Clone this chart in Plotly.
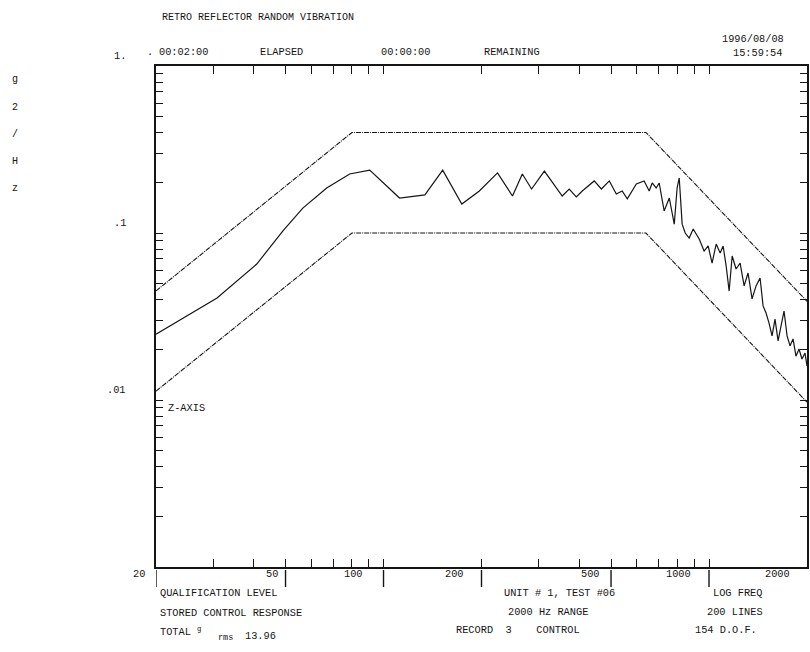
import numpy as np
import plotly.graph_objects as go

# ---------------- data ----------------
limit_freq = [20, 80, 640, 2000]
upper_abort = [0.045, 0.40, 0.40, 0.039]
lower_abort = [0.0113, 0.10, 0.10, 0.0097]

resp_freq = [20, 24.2, 30.8, 40.8, 49.1, 56.5, 66.9, 78.7, 86.3, 90.7, 112, 134, 152, 174, 197,
             224, 249, 267, 285, 312, 354, 372, 391, 408, 444, 467, 494, 519, 541, 561, 598,
             632, 655, 669, 688, 703, 728, 755, 782, 798, 810, 821, 827, 845, 869, 894, 920,
             933, 966, 994, 1022, 1052, 1082, 1105, 1129, 1153, 1178, 1211, 1246, 1282, 1318,
             1356, 1395, 1435, 1466, 1497, 1529, 1562, 1595, 1630, 1664, 1700, 1737, 1774,
             1812, 1850, 1890, 1930, 1972, 2000]
resp_psd = [0.0248, 0.031, 0.0408, 0.0652, 0.103, 0.141, 0.186, 0.2255, 0.235, 0.238, 0.162, 0.169,
            0.238, 0.149, 0.1785, 0.229, 0.1666, 0.2255, 0.1834, 0.235, 0.1666, 0.1834, 0.1643,
            0.1785, 0.205, 0.1834, 0.205, 0.1712, 0.1785, 0.160, 0.1965, 0.205, 0.1785, 0.1993,
            0.186, 0.1993, 0.1355, 0.162, 0.113, 0.186, 0.2135, 0.141, 0.113, 0.100, 0.0933,
            0.1057, 0.096, 0.092, 0.078, 0.0836, 0.0661, 0.0859, 0.0759, 0.0836, 0.0634, 0.0449,
            0.0728, 0.0609, 0.0661, 0.0482, 0.0576, 0.0403, 0.0482, 0.0538, 0.0366, 0.0332,
            0.0289, 0.0242, 0.0305, 0.0226, 0.0277, 0.0341, 0.0242, 0.0211, 0.0232, 0.0183,
            0.0202, 0.0176, 0.0191, 0.016]

x_tick_vals = [20, 50, 100, 200, 500, 1000, 2000]
x_tick_text = ["20", "50", "100", "200", "500", "1000", "2000"]
y_tick_vals = [1, 0.1, 0.01]
y_tick_text = ["1.", ".1", ".01"]

title_text = "RETRO REFLECTOR RANDOM VIBRATION"

# ---------------- layout helpers ----------------
W, H = 810, 652
L, R, T, B = 156, 809, 66, 567
FONT = "Liberation Mono"
INK = "#151515"


def px(xp):
    return (xp - L) / (R - L)


def py(yp):
    return (B - yp) / (B - T)


fig = go.Figure()
lim_style = dict(color=INK, width=1.1, dash="5px,1px,1px,1px")
fig.add_trace(go.Scatter(x=limit_freq, y=upper_abort, mode="lines", line=lim_style,
                         showlegend=False, hoverinfo="skip"))
fig.add_trace(go.Scatter(x=limit_freq, y=lower_abort, mode="lines", line=lim_style,
                         showlegend=False, hoverinfo="skip"))
fig.add_trace(go.Scatter(x=resp_freq, y=resp_psd, mode="lines",
                         line=dict(color=INK, width=1.2), showlegend=False))

minor_x = [m * 10 ** e for e in (1, 2, 3) for m in range(1, 10) if 20 <= m * 10 ** e <= 2000]
minor_y = [m * 10.0 ** e for e in (-3, -2, -1, 0) for m in range(1, 10) if m * 10.0 ** e <= 1]

fig.update_xaxes(type="log", range=[np.log10(20), np.log10(2000)], tickvals=minor_x,
                 showticklabels=False, ticks="inside", ticklen=8, tickwidth=1.2, tickcolor=INK,
                 showline=True, linecolor=INK, linewidth=1.5, mirror="ticks",
                 showgrid=False, zeroline=False)
fig.update_yaxes(type="log", range=[-3, 0], tickvals=minor_y,
                 showticklabels=False, ticks="inside", ticklen=7, tickwidth=1.2, tickcolor=INK,
                 showline=True, linecolor=INK, linewidth=1.8, mirror="ticks",
                 showgrid=False, zeroline=False)

ann = []


def txt(x, y, s, size=10.3, anchor="left"):
    ann.append(dict(x=px(x), y=py(y), xref="paper", yref="paper", text=s, showarrow=False,
                    xanchor=anchor, yanchor="middle", font=dict(family=FONT, size=size, color=INK)))


# header
txt(160, 17, title_text, size=10)
txt(788, 39, "1996/08/08", anchor="right")
txt(157, 52, "00:02:00")
txt(258, 52, "ELAPSED")
txt(380, 52, "00:00:00")
txt(483, 52, "REMAINING")
txt(786, 53, "15:59:54", anchor="right")
txt(145, 52, ".")

# y axis title, stacked letters
for i, ch in enumerate(["g", "2", "/", "H", "z"]):
    txt(15, 80 + i * 27, ch, size=10, anchor="center")

# y tick labels
for v, s in zip(y_tick_vals, y_tick_text):
    ann.append(dict(x=0, y=np.log10(v), xref="paper", yref="y", text=s, showarrow=False,
                    xanchor="right", yanchor="middle", xshift=-28, yshift=10,
                    font=dict(family=FONT, size=10.3, color=INK)))

# x tick labels and marker bars below the axis
shapes = []
label_gap = [9, 6, 19, 16, 9, 16, 15]
for v, s, g in zip(x_tick_vals, x_tick_text, label_gap):
    ann.append(dict(x=np.log10(v), y=0, xref="x", yref="paper", text=s, showarrow=False,
                    xanchor="right", yanchor="middle", xshift=-g, yshift=-7,
                    font=dict(family=FONT, size=10.3, color=INK)))
    if v < 2000:
        shapes.append(dict(type="line", xref="x", yref="paper", x0=v, x1=v,
                           y0=-0.006, y1=-0.040, line=dict(color=INK, width=1.4)))

# in-plot label
txt(166, 408, "Z-AXIS")

# footer
txt(158, 593, "QUALIFICATION LEVEL")
txt(158, 613, "STORED CONTROL RESPONSE")
txt(158, 631, "TOTAL <sup>g</sup>")
txt(216, 638, "rms", size=8.5)
txt(243, 636, "13.96")
txt(503, 593, "UNIT # 1, TEST #06")
txt(507, 612, "2000 Hz RANGE")
txt(455, 630, "RECORD  3    CONTROL")
txt(713, 593, "LOG FREQ")
txt(707, 612, "200 LINES")
txt(695, 630, "154 D.O.F.")

fig.update_layout(width=W, height=H, margin=dict(l=L, r=W - R, t=T, b=H - B),
                  paper_bgcolor="white", plot_bgcolor="white", annotations=ann, shapes=shapes,
                  font=dict(family=FONT, color=INK))

fig.write_html("out.html", config={"displayModeBar": False},
               post_script="document.body.style.margin='0px';")
